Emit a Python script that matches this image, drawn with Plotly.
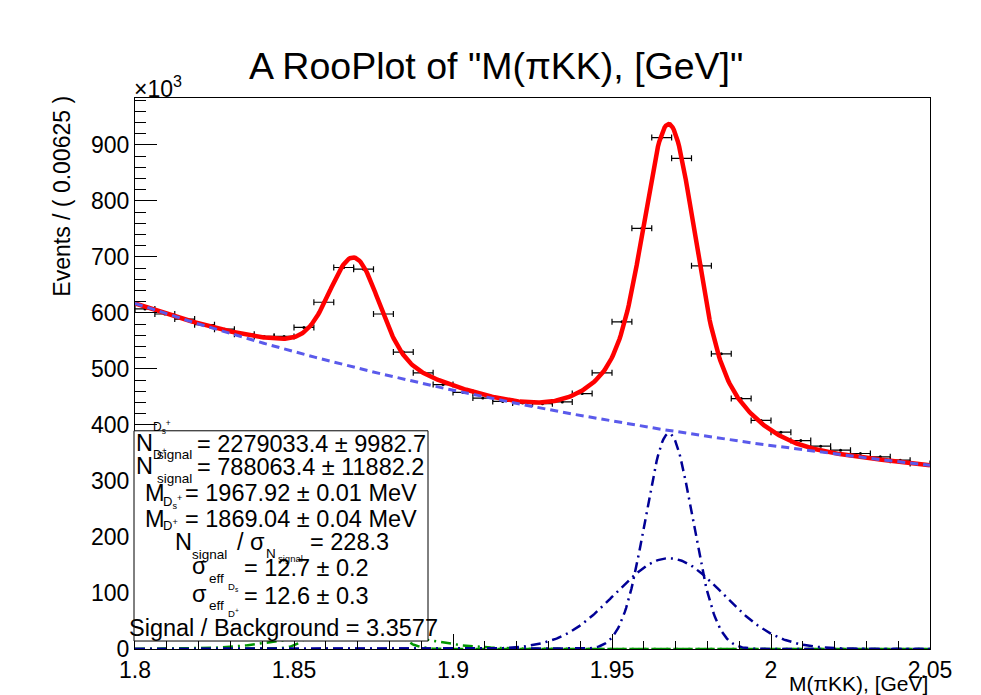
import numpy as np
import plotly.graph_objects as go

# ---------------- data (events per bin, in units of 10^3) ----------------
bin_lo, bin_hi, n_bins = 1.8, 2.05, 40
bin_width = 0.00625
counts_k = [607, 598, 589, 579, 571, 562, 558, 558, 574, 619,
            681, 678, 598, 530, 493, 472, 458, 448, 442, 439,
            438, 441, 456, 493, 584, 751, 913, 876, 684, 527,
            447, 408, 387, 372, 362, 355, 349, 343, 337, 331]

# fit model parameters
bg_const, bg_amp, bg_slope = 189.0, 428.0, 4.5           # const + amp*exp(-slope*(m-1.8))
dp_mean, dp_amp_narrow, dp_sig_narrow, dp_amp_wide, dp_sig_wide = 1.86904, 164.0, 0.0075, 32.0, 0.019
ds_mean, ds_amp_narrow, ds_sig_narrow, ds_amp_wide, ds_sig_wide = 1.96792, 385.0, 0.0074, 162.0, 0.017

x_tickvals = [1.8, 1.85, 1.9, 1.95, 2.0, 2.05]
x_ticktext = ["1.8", "1.85", "1.9", "1.95", "2", "2.05"]
y_tickvals = [0, 100, 200, 300, 400, 500, 600, 700, 800, 900]
y_ticktext = [str(v) for v in y_tickvals]

title_text = 'A RooPlot of "M(πKK), [GeV]"'
x_title = "M(πKK), [GeV]"
y_title = "Events / ( 0.00625 )"

# ---------------- derived ----------------
centers = [bin_lo + bin_width * (i + 0.5) for i in range(n_bins)]
m = np.linspace(bin_lo, bin_hi, 600)
bg = bg_const + bg_amp * np.exp(-bg_slope * (m - bin_lo))
def gauss(a, mu, s):
    return a * np.exp(-0.5 * ((m - mu) / s) ** 2)
dp_n = gauss(dp_amp_narrow, dp_mean, dp_sig_narrow)
dp_w = gauss(dp_amp_wide, dp_mean, dp_sig_wide)
ds_n = gauss(ds_amp_narrow, ds_mean, ds_sig_narrow)
ds_w = gauss(ds_amp_wide, ds_mean, ds_sig_wide)
total = bg + dp_n + dp_w + ds_n + ds_w

FONT = "Liberation Sans, Arial, Helvetica, sans-serif"
W, H = 981, 695
L, R, T, B = 135, 930, 98, 651
YMAX = 983.6

fig = go.Figure()
fig.add_trace(go.Scatter(
    x=centers, y=counts_k, mode="markers",
    marker=dict(color="black", size=3),
    error_x=dict(type="constant", value=bin_width / 2, color="black", thickness=1.2, width=3),
    showlegend=False))
fig.add_trace(go.Scatter(x=m, y=total, mode="lines", line=dict(color="red", width=4.5), showlegend=False))
fig.add_trace(go.Scatter(x=m, y=bg, mode="lines",
                         line=dict(color="rgb(90,90,235)", width=3, dash="8px,5px"), showlegend=False))
for comp in (dp_n, dp_w):
    fig.add_trace(go.Scatter(x=m, y=comp, mode="lines",
                             line=dict(color="rgb(0,150,0)", width=2.5, dash="10px,5px,2px,5px"), showlegend=False))
for comp in (ds_n, ds_w):
    fig.add_trace(go.Scatter(x=m, y=comp, mode="lines",
                             line=dict(color="rgb(0,0,150)", width=2.5, dash="10px,5px,2px,5px"), showlegend=False))

def P(px, py):
    return (px - L) / (R - L), (B - py) / (B - T)

annotations = []
def txt(text, px, py, size, xa="left"):
    x, y = P(px, py)
    annotations.append(dict(text=text, x=x, y=y, xref="paper", yref="paper", xanchor=xa, yanchor="middle",
                            showarrow=False, font=dict(family=FONT, size=size, color="black")))

BIG, SUB, TINY = 23.5, 13.5, 9.5
# legend text
txt("N", 134, 444, BIG); txt("D<sub>s</sub><sup>+</sup>", 151, 428, 12); txt("signal", 155, 456, SUB)
txt("= 2279033.4 ± 9982.7", 195, 445, BIG)
txt("N", 134, 467, BIG); txt("D<sup>+</sup>", 151, 455, 12); txt("signal", 155, 480, SUB)
txt("= 788063.4 ± 11882.2", 195, 468, BIG)
txt("M", 143, 494, BIG); txt("D<sub>s</sub><sup>+</sup>", 161, 503, 13)
txt("= 1967.92 ± 0.01 MeV", 183, 494, BIG)
txt("M", 143, 521, BIG); txt("D<sup>+</sup>", 161, 527, 13)
txt("= 1869.04 ± 0.04 MeV", 183, 521, BIG)
txt("N", 173, 544, BIG); txt("signal", 190, 556, SUB); txt("/ σ", 235, 544, BIG)
txt("N", 264, 555, SUB); txt("signal", 276, 560, TINY); txt("= 228.3", 308, 544, BIG)
txt("σ", 190, 568, BIG); txt("eff", 207, 580, SUB); txt("D<sub>s</sub>", 226, 589, TINY)
txt("= 12.7 ± 0.2", 242, 570, BIG)
txt("σ", 190, 596, BIG); txt("eff", 207, 607, SUB); txt("D<sup>+</sup>", 226, 615, TINY)
txt("= 12.6 ± 0.3", 242, 598, BIG)
txt("Signal / Background = 3.3577", 283, 630, BIG, "center")

# title, axis titles, exponent
txt(title_text, 496, 66, 37.5, "center")
txt(x_title, 930, 686, 21, "right")
txt("×10<sup>3</sup>", 132, 87, 23)
xa_, ya_ = P(62, 197)
annotations.append(dict(text=y_title, x=xa_, y=ya_, xref="paper", yref="paper", xanchor="center",
                        yanchor="middle", textangle=-90, showarrow=False,
                        font=dict(family=FONT, size=23, color="black")))

x0, y0 = P(134, 643)
x1, y1 = P(428, 432)
shapes = [dict(type="rect", xref="paper", yref="paper", x0=x0, y0=y0, x1=x1, y1=y1,
               fillcolor="white", line=dict(color="black", width=1), layer="above")]

fig.update_layout(
    width=W, height=H, autosize=False,
    margin=dict(l=L, r=W - R, t=T, b=H - B, pad=0),
    paper_bgcolor="white", plot_bgcolor="white",
    showlegend=False, annotations=annotations, shapes=shapes,
    font=dict(family=FONT, color="black"),
    xaxis=dict(range=[bin_lo, bin_hi], tickvals=x_tickvals, ticktext=x_ticktext,
               ticks="inside", ticklen=15, tickwidth=1, tickcolor="black",
               minor=dict(ticks="inside", ticklen=8, dtick=0.01, tick0=1.8, tickcolor="black"),
               showline=True, linecolor="black", linewidth=1, mirror=True,
               showgrid=False, zeroline=False, tickfont=dict(size=23, family=FONT)),
    yaxis=dict(range=[0, YMAX], tickvals=y_tickvals, ticktext=y_ticktext,
               ticks="inside", ticklen=22, tickwidth=1, tickcolor="black",
               minor=dict(ticks="inside", ticklen=11, dtick=20, tick0=0, tickcolor="black"),
               showline=True, linecolor="black", linewidth=1, mirror=True,
               showgrid=False, zeroline=False, tickfont=dict(size=23, family=FONT)),
)
fig.write_html("out.html")
